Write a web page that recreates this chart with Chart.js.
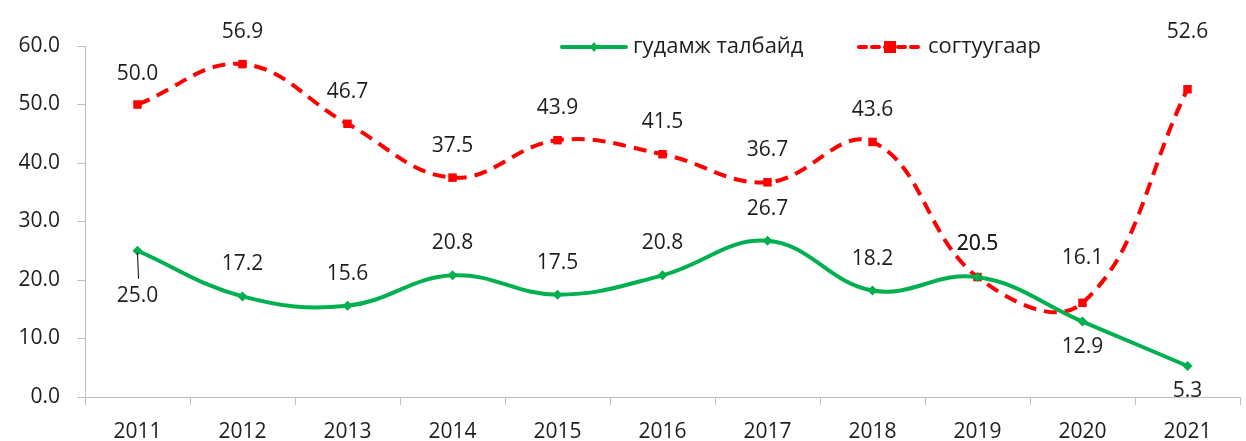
<!DOCTYPE html>
<html>
<head>
<meta charset="utf-8">
<script src="https://cdn.jsdelivr.net/npm/chart.js@4.4.1/dist/chart.umd.min.js"></script>
<style>
  html, body { margin: 0; padding: 0; background: #fff; }
  #wrap { width: 1246px; height: 441px; position: relative; }
</style>
</head>
<body>
<div id="wrap"><canvas id="chart"></canvas></div>
<script>
// data
const years = ['2011', '2012', '2013', '2014', '2015', '2016', '2017', '2018', '2019', '2020', '2021'];
const streetValues = [25.0, 17.2, 15.6, 20.8, 17.5, 20.8, 26.7, 18.2, 20.5, 12.9, 5.3];
const drunkValues = [50.0, 56.9, 46.7, 37.5, 43.9, 41.5, 36.7, 43.6, 20.5, 16.1, 52.6];
const seriesNames = ['гудамж талбайд', 'согтуугаар'];

// label placement (px from point, negative = above)
const streetLabelDy = [45, -32, -32, -32, -32, -32, -32, -32, -33, 25, 25];
const drunkLabelDy = [-30, -32, -32, -32, -32, -32, -32, -32, -33, -45, -57];

const FONT = '"Open Sans", "Noto Sans", sans-serif';
const GREEN = '#00B050';
const RED = '#FF0000';
const TEXT = '#1e1e1e';

const labelPlugin = {
    id: 'labels',
    afterDatasetsDraw(chart) {
        const ctx = chart.ctx;
        ctx.save();
        ctx.font = '21px ' + FONT;
        ctx.fillStyle = TEXT;
        ctx.textAlign = 'center';
        ctx.textBaseline = 'middle';
        const offs = [streetLabelDy, drunkLabelDy];
        chart.data.datasets.forEach((ds, i) => {
            chart.getDatasetMeta(i).data.forEach((pt, j) => {
                ctx.fillText(ds.data[j].toFixed(1), pt.x, pt.y + offs[i][j]);
            });
        });
        // leader line for first green label
        const p0 = chart.getDatasetMeta(0).data[0];
        ctx.strokeStyle = '#000';
        ctx.lineWidth = 1;
        ctx.beginPath();
        ctx.moveTo(p0.x, p0.y + 2);
        ctx.lineTo(p0.x + 1, p0.y + 28);
        ctx.stroke();

        // legend
        ctx.textAlign = 'left';
        ctx.font = '22px ' + FONT;
        const ly = 47;
        ctx.lineCap = 'round';
        ctx.strokeStyle = GREEN;
        ctx.lineWidth = 4;
        ctx.beginPath();
        ctx.moveTo(562, ly); ctx.lineTo(626, ly);
        ctx.stroke();
        ctx.fillStyle = GREEN;
        ctx.beginPath();
        ctx.moveTo(594, ly - 5); ctx.lineTo(598, ly); ctx.lineTo(594, ly + 5); ctx.lineTo(590, ly);
        ctx.closePath(); ctx.fill();
        ctx.fillStyle = TEXT;
        ctx.fillText(seriesNames[0], 633, ly);

        ctx.strokeStyle = RED;
        ctx.setLineDash([7, 6]);
        ctx.beginPath();
        ctx.moveTo(859, ly); ctx.lineTo(922, ly);
        ctx.stroke();
        ctx.setLineDash([]);
        ctx.fillStyle = RED;
        ctx.fillRect(884, ly - 6, 12, 12);
        ctx.fillStyle = TEXT;
        ctx.fillText(seriesNames[1], 928, ly);
        ctx.restore();
    }
};

new Chart(document.getElementById('chart'), {
    type: 'line',
    data: {
        labels: years,
        datasets: [
            {
                label: seriesNames[0],
                data: streetValues,
                borderColor: GREEN,
                backgroundColor: GREEN,
                borderWidth: 4,
                pointStyle: 'rectRot',
                pointRadius: 5,
                pointBorderWidth: 0,
                tension: 0.4
            },
            {
                label: seriesNames[1],
                data: drunkValues,
                borderColor: RED,
                backgroundColor: RED,
                borderWidth: 4,
                borderDash: [13, 8],
                pointStyle: 'rect',
                pointRadius: 6,
                pointBorderWidth: 0,
                tension: 0.4
            }
        ]
    },
    options: {
        responsive: true,
        maintainAspectRatio: false,
        animation: false,
        layout: { padding: { top: 46, right: 0, left: 0, bottom: 0 } },
        plugins: {
            legend: { display: false },
            tooltip: { enabled: false }
        },
        scales: {
            x: {
                offset: true,
                grid: {
                    offset: true,
                    drawOnChartArea: false,
                    color: '#BFBFBF',
                    tickLength: 8
                },
                border: { color: '#BFBFBF', width: 1 },
                ticks: { font: { family: FONT, size: 21 }, color: TEXT, padding: 14, maxRotation: 0 },
                afterFit(scale) { scale.height = 44; }
            },
            y: {
                min: 0,
                max: 60,
                grid: {
                    drawOnChartArea: false,
                    color: '#BFBFBF',
                    tickLength: 8
                },
                border: { color: '#BFBFBF', width: 1 },
                ticks: {
                    stepSize: 10,
                    font: { family: FONT, size: 21 },
                    color: TEXT,
                    padding: 17,
                    callback: v => v.toFixed(1)
                },
                afterFit(scale) { scale.width = 85; }
            }
        }
    },
    plugins: [labelPlugin]
});
</script>
</body>
</html>
